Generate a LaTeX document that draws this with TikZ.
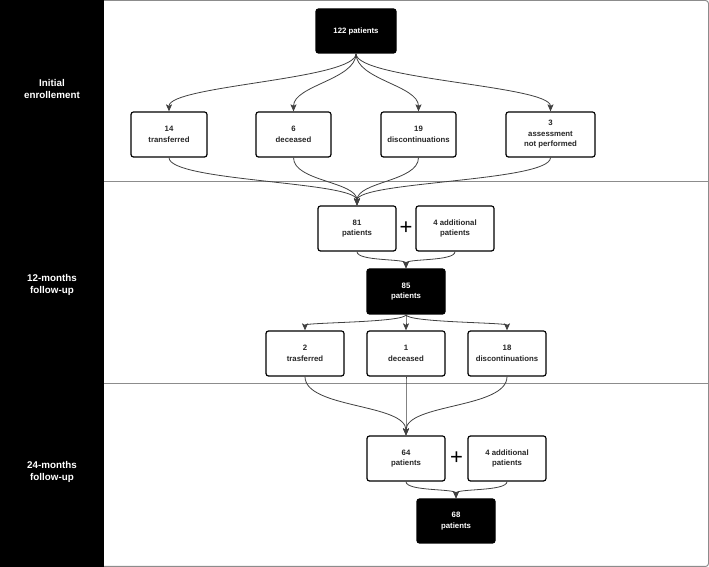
\documentclass[tikz,border=0pt]{standalone}
\usepackage{fontspec}
\setmainfont{Liberation Sans}
\usetikzlibrary{arrows.meta}

\tikzset{
	box/.style={draw=black, line width=1.2pt, rounded corners=2.5pt, fill=white,
		minimum width=78pt, minimum height=45pt, inner sep=0pt, align=center,
		text=black!85, font=\bfseries\fontsize{7.8}{10.5}\selectfont},
	darkbox/.style={box, fill=black, text=white},
	flow/.style={draw=black!75, line width=0.8pt,
		-{Stealth[length=7pt,width=6pt,inset=1.5pt]}},
	bend/.style={to path={.. controls +(0,-#1) and +(0,#1) .. (\tikztotarget) \tikztonodes}},
	phase/.style={text=white, align=center, font=\bfseries\fontsize{9.8}{12}\selectfont},
	plus/.style={font=\fontsize{22}{22}\selectfont, inner sep=0pt}
}

\begin{document}
\begin{tikzpicture}[x=1pt,y=1pt]
	\useasboundingbox (0,0) rectangle (709,567);
	% frame, phase column and separators
	\draw[black!45, line width=1pt, rounded corners=3pt] (0.5,0.5) rectangle (708.5,566.5);
	\fill[black] (0,0) rectangle (104,567);
	\draw[black!45, line width=0.8pt] (104,386) -- (708.5,386);
	\draw[black!45, line width=0.8pt] (104,184) -- (708.5,184);
	\node[phase] (enrol) at (52,478) {Initial\\enrollement};
	\node[phase] (fu12) at (52,282) {12-months\\follow-up};
	\node[phase] (fu24) at (52,95) {24-months\\follow-up};
	
	% initial enrollement
	\node[darkbox, minimum width=80pt, minimum height=44pt] (p122) at (356,536) {122 patients};
	\node[box, minimum width=76pt] (tr14) at (169,432.5) {14\\transferred};
	\node[box, minimum width=75pt] (dc6) at (293.5,432.5) {6\\deceased};
	\node[box, minimum width=75pt] (ds19) at (418.5,432.5) {19\\discontinuations};
	\node[box, minimum width=89pt] (na3) at (550.5,432.5) {3\\assessment\\not performed};
	\foreach \n in {tr14,dc6,ds19,na3}
		\draw[flow] (p122.south) to[bend=26] (\n.north);
	
	% 12-months follow-up
	\node[box] (p81) at (357,338.5) {81\\patients};
	\node[plus] (plus1) at (406,339) {+};
	\node[box] (add1) at (455,338.5) {4 additional\\patients};
	\foreach \n in {tr14,dc6,ds19,na3}
		\draw[flow] (\n.south) to[bend=24] (p81.north);
	\node[darkbox] (p85) at (406,275.5) {85\\patients};
	\draw[flow] (p81.south) to[bend=10] (p85.north);
	\draw[flow] (add1.south) to[bend=10] (p85.north);
	\node[box] (tr2) at (305,213.5) {2\\trasferred};
	\node[box] (dc1) at (406,213.5) {1\\deceased};
	\node[box] (ds18) at (507,213.5) {18\\discontinuations};
	\foreach \n in {tr2,dc1,ds18}
		\draw[flow] (p85.south) to[bend=8] (\n.north);
	
	% 24-months follow-up
	\node[box] (p64) at (406,108.5) {64\\patients};
	\node[plus] (plus2) at (456.5,109) {+};
	\node[box] (add2) at (507,108.5) {4 additional\\patients};
	\foreach \n in {tr2,dc1,ds18}
		\draw[flow] (\n.south) to[bend=32] (p64.north);
	\node[darkbox, minimum height=44pt] (p68) at (456,46) {68\\patients};
	\draw[flow] (p64.south) to[bend=10] (p68.north);
	\draw[flow] (add2.south) to[bend=10] (p68.north);
\end{tikzpicture}
\end{document}
